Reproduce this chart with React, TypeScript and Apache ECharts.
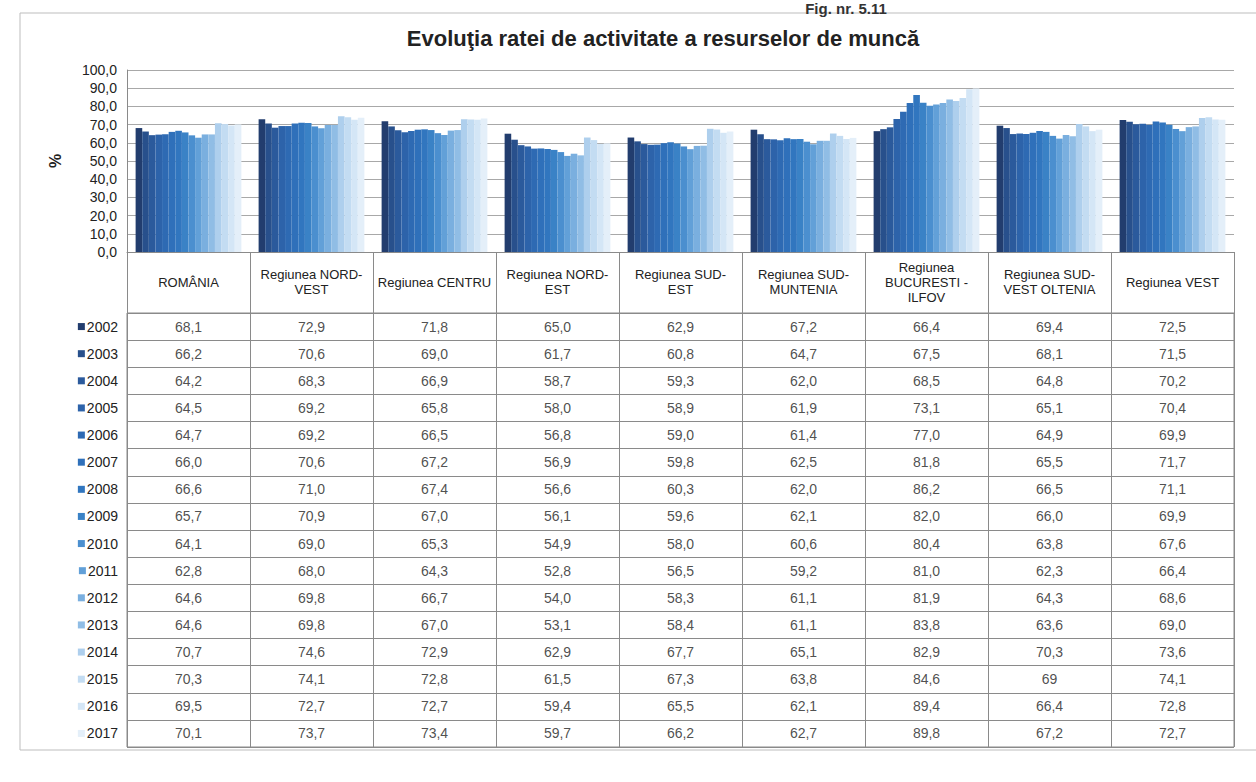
import React, { useEffect, useRef } from "react";
import * as echarts from "echarts";

const regions = [
  "ROMÂNIA",
  "Regiunea NORD-\nVEST",
  "Regiunea CENTRU",
  "Regiunea NORD-\nEST",
  "Regiunea SUD-\nEST",
  "Regiunea SUD-\nMUNTENIA",
  "Regiunea\nBUCURESTI -\nILFOV",
  "Regiunea SUD-\nVEST OLTENIA",
  "Regiunea VEST",
];

const years = ["2002", "2003", "2004", "2005", "2006", "2007", "2008", "2009", "2010", "2011", "2012", "2013", "2014", "2015", "2016", "2017"];

const v2002 = ["68,1", "72,9", "71,8", "65,0", "62,9", "67,2", "66,4", "69,4", "72,5"];
const v2003 = ["66,2", "70,6", "69,0", "61,7", "60,8", "64,7", "67,5", "68,1", "71,5"];
const v2004 = ["64,2", "68,3", "66,9", "58,7", "59,3", "62,0", "68,5", "64,8", "70,2"];
const v2005 = ["64,5", "69,2", "65,8", "58,0", "58,9", "61,9", "73,1", "65,1", "70,4"];
const v2006 = ["64,7", "69,2", "66,5", "56,8", "59,0", "61,4", "77,0", "64,9", "69,9"];
const v2007 = ["66,0", "70,6", "67,2", "56,9", "59,8", "62,5", "81,8", "65,5", "71,7"];
const v2008 = ["66,6", "71,0", "67,4", "56,6", "60,3", "62,0", "86,2", "66,5", "71,1"];
const v2009 = ["65,7", "70,9", "67,0", "56,1", "59,6", "62,1", "82,0", "66,0", "69,9"];
const v2010 = ["64,1", "69,0", "65,3", "54,9", "58,0", "60,6", "80,4", "63,8", "67,6"];
const v2011 = ["62,8", "68,0", "64,3", "52,8", "56,5", "59,2", "81,0", "62,3", "66,4"];
const v2012 = ["64,6", "69,8", "66,7", "54,0", "58,3", "61,1", "81,9", "64,3", "68,6"];
const v2013 = ["64,6", "69,8", "67,0", "53,1", "58,4", "61,1", "83,8", "63,6", "69,0"];
const v2014 = ["70,7", "74,6", "72,9", "62,9", "67,7", "65,1", "82,9", "70,3", "73,6"];
const v2015 = ["70,3", "74,1", "72,8", "61,5", "67,3", "63,8", "84,6", "69", "74,1"];
const v2016 = ["69,5", "72,7", "72,7", "59,4", "65,5", "62,1", "89,4", "66,4", "72,8"];
const v2017 = ["70,1", "73,7", "73,4", "59,7", "66,2", "62,7", "89,8", "67,2", "72,7"];

const yearValues = [v2002, v2003, v2004, v2005, v2006, v2007, v2008, v2009, v2010, v2011, v2012, v2013, v2014, v2015, v2016, v2017];

const yTicks = [0, 10, 20, 30, 40, 50, 60, 70, 80, 90, 100];

const yearColors = [
  "#223d6e", "#28508c", "#2b5a9c", "#2d63aa", "#2e6ab3", "#2f70ba", "#3176bf", "#3a82c6",
  "#4b8fcf", "#62a0d8", "#7aafdf", "#90bde5", "#aecfed", "#c3dcf2", "#d4e6f6", "#e4eff9",
];

const parse = (s: string) => parseFloat(s.replace(",", "."));

const TABLE_FONT = "'Liberation Sans', Arial, sans-serif";

export default function App() {
  const ref = useRef<HTMLDivElement>(null);
  useEffect(() => {
    if (!ref.current) return;
    const chart = echarts.init(ref.current, undefined, { renderer: "svg" });

    const barSeries = years.map((yr, i) => ({
      type: "bar",
      name: yr,
      xAxisIndex: 0,
      yAxisIndex: 0,
      data: yearValues[i].map(parse),
      itemStyle: { color: yearColors[i] },
      barGap: "0%",
      barCategoryGap: "14%",
      silent: true,
    }));

    const cellData = yearValues.flatMap((row, yi) =>
      row.map((s, xi) => ({ value: [xi, yi], name: s }))
    );

    const rich: any = { yr: { fontSize: 14, fontFamily: TABLE_FONT, color: "#222", padding: [0, 0, 0, 2] } };
    yearColors.forEach((c, i) => {
      rich["s" + i] = { width: 7, height: 7, backgroundColor: c };
    });

    chart.setOption({
      animation: false,
      backgroundColor: "#fff",
      title: {
        text: "Evoluţia ratei de activitate a resurselor de muncă",
        left: 658,
        textAlign: "center",
        top: 22,
        textStyle: { fontSize: 22, fontWeight: "bold", color: "#222", fontFamily: TABLE_FONT },
      },
      graphic: [
        {
          type: "rect",
          shape: { x: 20, y: 13, width: 1250, height: 737 },
          style: { fill: "none", stroke: "#bdbdbd", lineWidth: 1 },
          silent: true,
        },
        {
          type: "text",
          x: 846,
          y: 1,
          style: {
            text: "Fig. nr. 5.11",
            fontSize: 15,
            fontWeight: "bold",
            fill: "#333",
            fontFamily: TABLE_FONT,
            textAlign: "center",
            textVerticalAlign: "top",
          },
          silent: true,
        },
      ],
      grid: [
        { left: 127, right: 22, top: 70, height: 182 },
        { left: 127, right: 22, top: 313, height: 434, show: true, borderColor: "#8a8a8a", borderWidth: 1 },
      ],
      xAxis: [
        {
          type: "category",
          gridIndex: 0,
          data: regions,
          axisLine: { show: true, lineStyle: { color: "#8a8a8a" } },
          axisTick: { show: true, interval: 0, length: 61, lineStyle: { color: "#8a8a8a" } },
          axisLabel: {
            interval: 0,
            margin: 30,
            verticalAlign: "middle",
            fontSize: 13,
            lineHeight: 15,
            color: "#222",
            fontFamily: TABLE_FONT,
          },
        },
        {
          type: "category",
          gridIndex: 1,
          data: regions,
          axisLine: { show: false },
          axisTick: { show: false },
          axisLabel: { show: false },
          splitLine: { show: true, interval: 0, lineStyle: { color: "#8a8a8a" } },
        },
      ],
      yAxis: [
        {
          type: "value",
          gridIndex: 0,
          min: yTicks[0],
          max: yTicks[yTicks.length - 1],
          interval: 10,
          name: "%",
          nameLocation: "middle",
          nameGap: 64,
          nameRotate: 90,
          nameTextStyle: { fontSize: 16, fontWeight: "bold", color: "#222", fontFamily: TABLE_FONT },
          axisLine: { show: true, lineStyle: { color: "#8a8a8a" } },
          axisTick: { show: false },
          axisLabel: {
            margin: 10,
            fontSize: 14,
            color: "#222",
            fontFamily: TABLE_FONT,
            formatter: (v: number) => v.toFixed(1).replace(".", ","),
          },
          splitLine: { show: true, lineStyle: { color: "#a8a8a8" } },
        },
        {
          type: "category",
          gridIndex: 1,
          data: years,
          inverse: true,
          axisLine: { show: true, lineStyle: { color: "#8a8a8a" } },
          axisTick: { show: false },
          splitLine: { show: true, interval: 0, lineStyle: { color: "#8a8a8a" } },
          axisLabel: {
            interval: 0,
            margin: 9,
            formatter: (v: string) => {
              const i = years.indexOf(v);
              return "{s" + i + "|}{yr|" + v + "}";
            },
            rich,
          },
        },
      ],
      series: [
        ...barSeries,
        {
          type: "scatter",
          xAxisIndex: 1,
          yAxisIndex: 1,
          symbol: "rect",
          symbolSize: 1,
          itemStyle: { color: "rgba(0,0,0,0)" },
          silent: true,
          data: cellData,
          label: {
            show: true,
            position: "inside",
            formatter: "{b}",
            fontSize: 14,
            color: "#222",
            fontFamily: TABLE_FONT,
          },
        },
      ],
    });
    return () => chart.dispose();
  }, []);
  return <div ref={ref} style={{ position: "fixed", left: 0, top: 0, width: 1256, height: 782 }} />;
}
